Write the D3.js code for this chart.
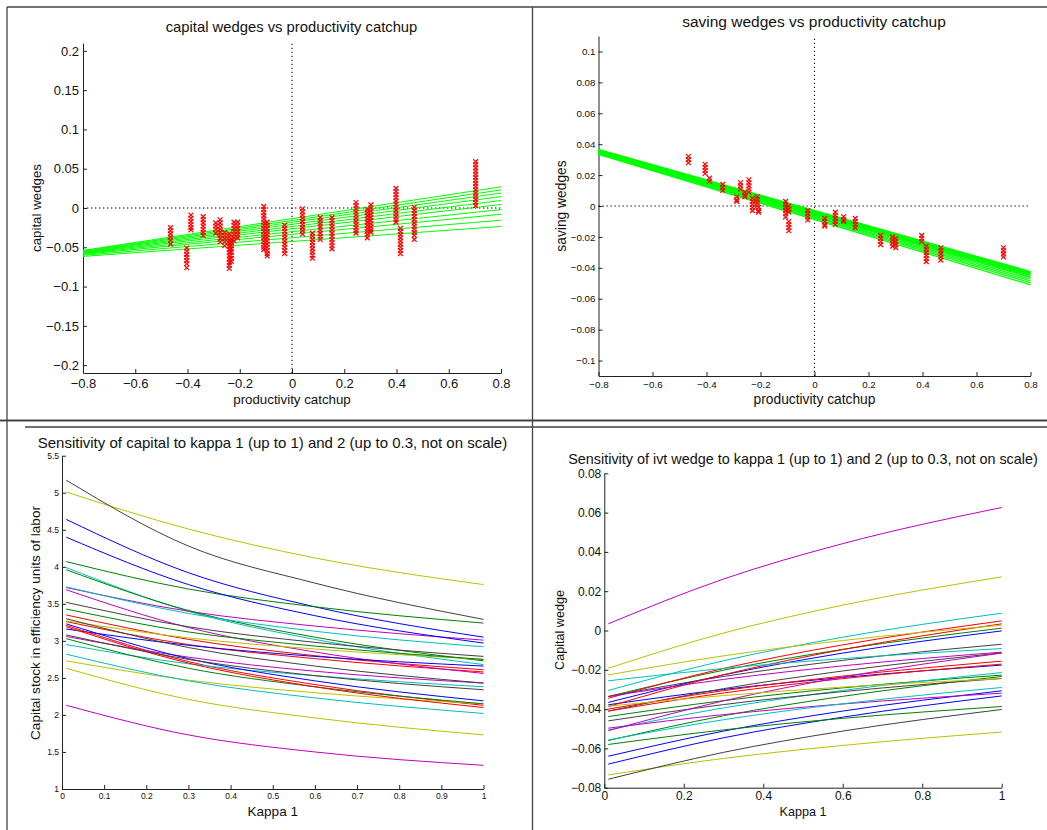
<!DOCTYPE html>
<html>
<head>
<meta charset="utf-8">
<script src="https://cdn.jsdelivr.net/npm/d3@7"></script>
<style>
  body { margin: 0; background: #fff; }
  svg { font-family: "Liberation Sans", Arial, Helvetica, sans-serif; }
  .axis path, .axis line { stroke: #222; }
  .axis text { fill: #111; }
</style>
</head>
<body>
<svg id="fig" width="1047" height="830"></svg>
<script>
// ---- data ----
var catchupTicks = [-0.8, -0.6, -0.4, -0.2, 0, 0.2, 0.4, 0.6, 0.8];
var capWedgeTicks = [-0.2, -0.15, -0.1, -0.05, 0, 0.05, 0.1, 0.15, 0.2];
var savWedgeTicks = [-0.1, -0.08, -0.06, -0.04, -0.02, 0, 0.02, 0.04, 0.06, 0.08, 0.1];
var kappaTicksA = [0, 0.1, 0.2, 0.3, 0.4, 0.5, 0.6, 0.7, 0.8, 0.9, 1];
var capStockTicks = [1, 1.5, 2, 2.5, 3, 3.5, 4, 4.5, 5, 5.5];
var kappaTicksB = [0, 0.2, 0.4, 0.6, 0.8, 1];
var ivtTicks = [-0.08, -0.06, -0.04, -0.02, 0, 0.02, 0.04, 0.06, 0.08];

// capital wedges: one column of x markers per country
var capCatchup = [-0.465, -0.403, -0.387, -0.340, -0.292, -0.275, -0.258, -0.240, -0.232, -0.222, -0.208,
  -0.108, -0.095, -0.028, 0.040, 0.078, 0.108, 0.153, 0.245, 0.288, 0.302, 0.398, 0.415, 0.468, 0.703];
var capWedge = [
  [-0.025, -0.029, -0.033, -0.037, -0.041, -0.046],
  [-0.051, -0.055, -0.059, -0.063, -0.067, -0.071, -0.076],
  [-0.009, -0.013, -0.017, -0.021, -0.025, -0.028],
  [-0.011, -0.015, -0.019, -0.023, -0.027, -0.031, -0.035],
  [-0.019, -0.023, -0.027, -0.032],
  [-0.015, -0.019, -0.023, -0.027, -0.031, -0.035, -0.039, -0.043],
  [-0.031, -0.035, -0.039, -0.043, -0.048],
  [-0.033, -0.037, -0.041, -0.045, -0.049, -0.053, -0.057, -0.061, -0.065, -0.069, -0.073, -0.077],
  [-0.040, -0.044, -0.048, -0.052, -0.056, -0.060, -0.064, -0.068],
  [-0.018, -0.022, -0.026, -0.030, -0.034, -0.038, -0.042],
  [-0.018, -0.022, -0.026, -0.030, -0.034, -0.038],
  [0.002, -0.002, -0.006, -0.010, -0.014, -0.018, -0.022, -0.026, -0.030, -0.034, -0.038, -0.042, -0.046, -0.050, -0.053],
  [-0.018, -0.022, -0.026, -0.030, -0.034, -0.038, -0.042, -0.046, -0.050, -0.054, -0.058, -0.061],
  [-0.022, -0.026, -0.030, -0.034, -0.038, -0.042, -0.046, -0.050, -0.054, -0.058],
  [-0.001, -0.005, -0.009, -0.013, -0.017, -0.021, -0.025, -0.029, -0.033],
  [-0.032, -0.036, -0.040, -0.044, -0.048, -0.052, -0.056, -0.060, -0.064],
  [-0.012, -0.016, -0.020, -0.024, -0.028, -0.032, -0.036, -0.040],
  [-0.012, -0.016, -0.020, -0.024, -0.028, -0.032, -0.036, -0.040, -0.044, -0.048, -0.052],
  [0.007, 0.003, -0.001, -0.005, -0.009, -0.013, -0.017, -0.021, -0.025, -0.029, -0.032],
  [-0.002, -0.006, -0.010, -0.014, -0.018, -0.022, -0.026, -0.030, -0.034, -0.038],
  [0.004, 0.000, -0.004, -0.008, -0.012, -0.016, -0.020, -0.024, -0.028, -0.031],
  [0.025, 0.021, 0.017, 0.013, 0.009, 0.005, 0.001, -0.003, -0.007, -0.011, -0.015, -0.018],
  [-0.026, -0.030, -0.034, -0.038, -0.042, -0.046, -0.050, -0.054, -0.058],
  [0.001, -0.003, -0.007, -0.011, -0.015, -0.019, -0.023, -0.027, -0.031, -0.035, -0.040],
  [0.059, 0.055, 0.051, 0.047, 0.043, 0.039, 0.035, 0.031, 0.027, 0.023, 0.019, 0.015, 0.011, 0.007, 0.003]
];
// fitted lines, value at catchup = -0.8 and at 0.8
var capFitLeft = [-0.054, -0.0547, -0.0553, -0.056, -0.0567, -0.0574, -0.0582, -0.059, -0.0602, -0.0616];
var capFitRight = [0.027, 0.023, 0.019, 0.0145, 0.0095, 0.0045, -0.002, -0.008, -0.0155, -0.0235];

// saving wedges
var savCatchup = [-0.467, -0.405, -0.389, -0.340, -0.288, -0.274, -0.258, -0.243, -0.230, -0.212, -0.207,
  -0.107, -0.095, -0.095, -0.025, 0.038, 0.077, 0.108, 0.151, 0.245, 0.289, 0.301, 0.397, 0.414, 0.468, 0.700];
var savWedge = [
  [0.032, 0.030, 0.028],
  [0.027, 0.025, 0.023, 0.021],
  [0.018, 0.016],
  [0.014, 0.012, 0.010],
  [0.006, 0.004, 0.003],
  [0.015, 0.013, 0.011],
  [0.009, 0.007, 0.006],
  [0.017, 0.015, 0.013, 0.011, 0.009],
  [0.005, 0.003, 0.001, -0.001, -0.003],
  [0.006, 0.004, 0.002, 0.000],
  [-0.001, -0.003, -0.004],
  [0.003, 0.001, -0.001, -0.003, -0.005, -0.007],
  [0.000, -0.002, -0.004],
  [-0.010, -0.012, -0.014, -0.016],
  [-0.003, -0.005, -0.007, -0.009],
  [-0.008, -0.010, -0.012, -0.013],
  [-0.004, -0.006, -0.008, -0.010, -0.012],
  [-0.007, -0.009, -0.010],
  [-0.008, -0.010, -0.012, -0.014],
  [-0.019, -0.021, -0.023, -0.025],
  [-0.020, -0.022, -0.024, -0.026],
  [-0.021, -0.023, -0.025, -0.027],
  [-0.019, -0.021, -0.023],
  [-0.026, -0.028, -0.030, -0.032, -0.034, -0.036],
  [-0.027, -0.029, -0.031, -0.033, -0.035],
  [-0.027, -0.029, -0.031, -0.033]
];
var savFitLeft = [0.0366, 0.0363, 0.0361, 0.0358, 0.0356, 0.0353, 0.0351, 0.0348, 0.0346, 0.0343, 0.0340, 0.0337, 0.0334];
var savFitRight = [-0.0424, -0.0428, -0.0432, -0.0436, -0.044, -0.0445, -0.045, -0.0456, -0.0463, -0.0474, -0.0485, -0.0497, -0.051];

// kappa sensitivity: 28 countries, values at kappaGrid (colour cycles b g r c m y k)
var kappaGrid = [0.01, 0.3, 0.6, 1];
var capStock = [
  [4.64, 3.92, 3.46, 3.05], [4.07, 3.70, 3.46, 3.24], [3.35, 3.02, 2.80, 2.61], [3.99, 3.40, 3.02, 2.68],
  [3.72, 3.40, 3.20, 3.01], [5.01, 4.51, 4.12, 3.76], [5.17, 4.28, 3.78, 3.29],
  [4.40, 3.76, 3.34, 2.97], [3.96, 3.41, 3.05, 2.73], [3.26, 2.95, 2.76, 2.58], [3.73, 3.37, 3.13, 2.92],
  [3.69, 3.18, 2.85, 2.56], [3.27, 3.04, 2.89, 2.75], [3.52, 3.19, 2.98, 2.79],
  [3.16, 2.94, 2.79, 2.66], [3.43, 3.12, 2.93, 2.75], [3.21, 2.72, 2.41, 2.13], [2.95, 2.69, 2.53, 2.38],
  [3.06, 2.78, 2.59, 2.43], [2.73, 2.47, 2.30, 2.15], [3.30, 2.91, 2.66, 2.43],
  [3.23, 2.76, 2.46, 2.19], [3.03, 2.63, 2.38, 2.15], [3.19, 2.70, 2.38, 2.10], [2.82, 2.46, 2.23, 2.02],
  [2.13, 1.73, 1.50, 1.32], [2.63, 2.21, 1.96, 1.73], [3.08, 2.75, 2.53, 2.34]
];
var ivtWedge = [
  [-0.0366, -0.0226, -0.0115, -0.0002], [-0.0336, -0.0202, -0.0096, 0.0012], [-0.0345, -0.0193, -0.0073, 0.0049],
  [-0.0305, -0.0154, -0.0034, 0.0088], [0.0034, 0.0262, 0.0442, 0.0626], [-0.0192, -0.0013, 0.0129, 0.0273],
  [-0.0336, -0.0234, -0.0152, -0.0070],
  [-0.0378, -0.0300, -0.0239, -0.0176], [-0.0438, -0.0357, -0.0292, -0.0227], [-0.0387, -0.0225, -0.0097, 0.0034],
  [-0.0256, -0.0193, -0.0143, -0.0092], [-0.0336, -0.0249, -0.0180, -0.0110], [-0.0226, -0.0129, -0.0051, 0.0027],
  [-0.0410, -0.0296, -0.0206, -0.0114],
  [-0.0640, -0.0512, -0.0410, -0.0307], [-0.0560, -0.0434, -0.0335, -0.0234], [-0.0400, -0.0306, -0.0232, -0.0156],
  [-0.0506, -0.0394, -0.0305, -0.0214], [-0.0497, -0.0428, -0.0374, -0.0319], [-0.0735, -0.0651, -0.0585, -0.0517],
  [-0.0460, -0.0377, -0.0311, -0.0244],
  [-0.0680, -0.0546, -0.0441, -0.0333], [-0.0580, -0.0506, -0.0447, -0.0387], [-0.0410, -0.0318, -0.0245, -0.0171],
  [-0.0557, -0.0454, -0.0373, -0.0290], [-0.0510, -0.0358, -0.0237, -0.0115], [-0.0385, -0.0331, -0.0288, -0.0245],
  [-0.0757, -0.0620, -0.0512, -0.0402]
];

var colorOrder = ["#0000ff", "#008000", "#ff0000", "#00bfbf", "#bf00bf", "#bfbf00", "#404040"];

var svg = d3.select("#fig");
var fmt = d3.format("~g");

// page frame (document table lines)
var frame = svg.append("g").attr("stroke", "#444").attr("stroke-width", 1.3);
frame.append("line").attr("x1", 7).attr("x2", 1047).attr("y1", 7).attr("y2", 7);
frame.append("line").attr("x1", 7).attr("x2", 7).attr("y1", 7).attr("y2", 830);
frame.append("line").attr("x1", 532.5).attr("x2", 532.5).attr("y1", 7).attr("y2", 830);
frame.append("line").attr("x1", 0).attr("x2", 1047).attr("y1", 420.5).attr("y2", 420.5).attr("stroke-width", 2);
frame.append("line").attr("x1", 25).attr("x2", 1047).attr("y1", 427).attr("y2", 427);

function panel(o) {
    var g = svg.append("g");
    var x = d3.scaleLinear().domain(o.xdom).range([o.left, o.right]);
    var y = d3.scaleLinear().domain(o.ydom).range([o.bottom, o.top]);

    g.append("g").attr("class", "axis")
        .attr("transform", "translate(0," + o.bottom + ")")
        .call(d3.axisBottom(x).tickValues(o.xticks).tickFormat(fmt).tickSizeInner(-4).tickSizeOuter(0).tickPadding(o.xpad))
        .call(s => s.selectAll("text").style("font-size", o.tickFont + "px"));
    g.append("g").attr("class", "axis")
        .attr("transform", "translate(" + o.left + ",0)")
        .call(d3.axisLeft(y).tickValues(o.yticks).tickFormat(fmt).tickSizeInner(-4).tickSizeOuter(0).tickPadding(o.ypad))
        .call(s => s.selectAll("text").style("font-size", o.tickFont + "px"));
    g.selectAll(".axis").attr("font-family", null);

    g.append("text").attr("x", o.titleX).attr("y", o.titleY)
        .attr("text-anchor", "middle").style("font-size", o.titleFont + "px").attr("fill", "#111")
        .text(o.title);
    g.append("text").attr("x", (o.left + o.right) / 2).attr("y", o.xlabY)
        .attr("text-anchor", "middle").style("font-size", o.labFont + "px").attr("fill", "#111")
        .text(o.xlab);
    g.append("text")
        .attr("transform", "translate(" + o.ylabX + "," + o.ylabCY + ") rotate(-90)")
        .attr("text-anchor", "middle").style("font-size", o.labFont + "px").attr("fill", "#111")
        .text(o.ylab);
    return {g: g, x: x, y: y};
}

function zeroGuides(p) {
    var dots = p.g.append("g").attr("stroke", "#000").attr("stroke-width", 1.1).attr("stroke-dasharray", "1.3,2.7");
    dots.append("line").attr("x1", p.x(p.x.domain()[0])).attr("x2", p.x(p.x.domain()[1]))
        .attr("y1", p.y(0)).attr("y2", p.y(0));
    dots.append("line").attr("x1", p.x(0)).attr("x2", p.x(0))
        .attr("y1", p.y(p.y.domain()[0])).attr("y2", p.y(p.y.domain()[1]));
}

function fitLines(p, left, right, w) {
    var line = d3.line().x(d => p.x(d[0])).y(d => p.y(d[1]));
    var xd = p.x.domain();
    p.g.append("g").selectAll("path")
        .data(left.map((l, i) => [[xd[0], l], [xd[1], right[i]]]))
        .join("path")
        .attr("d", line)
        .attr("fill", "none").attr("stroke", "#00ff00").attr("stroke-width", w);
}

function crosses(p, xs, ys, r) {
    var pts = [];
    xs.forEach((xv, i) => ys[i].forEach(yv => pts.push([xv, yv])));
    p.g.append("g").selectAll("path")
        .data(pts)
        .join("path")
        .attr("transform", d => "translate(" + p.x(d[0]) + "," + p.y(d[1]) + ")")
        .attr("d", "M" + (-r) + "," + (-r) + "L" + r + "," + r + "M" + (-r) + "," + r + "L" + r + "," + (-r))
        .attr("stroke", "#ff0000").attr("stroke-width", 1.2).attr("fill", "none");
}

function curves(p, rows) {
    var line = d3.line().x((d, i) => p.x(kappaGrid[i])).y(d => p.y(d)).curve(d3.curveMonotoneX);
    p.g.append("g").selectAll("path")
        .data(rows)
        .join("path")
        .attr("d", line)
        .attr("fill", "none")
        .attr("stroke", (d, i) => colorOrder[i % colorOrder.length])
        .attr("stroke-width", 1);
}

// top left
var p1 = panel({
    xdom: [-0.8, 0.8], ydom: [-0.21, 0.21], left: 83, right: 501, top: 43, bottom: 373,
    xticks: catchupTicks, yticks: capWedgeTicks, tickFont: 13, xpad: 6, ypad: 4,
    title: "capital wedges vs productivity catchup", titleX: 291.5, titleY: 32, titleFont: 14.8,
    xlab: "productivity catchup", xlabY: 404, ylab: "capital wedges", ylabX: 41, ylabCY: 208, labFont: 13.3
});
zeroGuides(p1);
fitLines(p1, capFitLeft, capFitRight, 1);
crosses(p1, capCatchup, capWedge, 2.4);

// top right
var p2 = panel({
    xdom: [-0.8, 0.8], ydom: [-0.11, 0.11], left: 598.5, right: 1030.5, top: 36, bottom: 376,
    xticks: catchupTicks, yticks: savWedgeTicks, tickFont: 9.8, xpad: 5, ypad: 3,
    title: "saving wedges vs productivity catchup", titleX: 814, titleY: 27, titleFont: 15.5,
    xlab: "productivity catchup", xlabY: 404, ylab: "saving wedges", ylabX: 566, ylabCY: 206, labFont: 13.8
});
zeroGuides(p2);
fitLines(p2, savFitLeft, savFitRight, 1.2);
crosses(p2, savCatchup, savWedge, 2.4);

// bottom left
var p3 = panel({
    xdom: [0, 1], ydom: [1, 5.5], left: 62, right: 483.5, top: 455.7, bottom: 789,
    xticks: kappaTicksA, yticks: capStockTicks, tickFont: 8.5, xpad: 4, ypad: 3,
    title: "Sensitivity of capital to kappa 1 (up to 1) and 2 (up to 0.3, not on scale)", titleX: 272.5, titleY: 448, titleFont: 15,
    xlab: "Kappa 1", xlabY: 816, ylab: "Capital stock in efficiency units of labor", ylabX: 40, ylabCY: 623, labFont: 13.6
});
curves(p3, capStock);

// bottom right
var p4 = panel({
    xdom: [0, 1], ydom: [-0.08, 0.08], left: 604.3, right: 1001.7, top: 473.3, bottom: 787.7,
    xticks: kappaTicksB, yticks: ivtTicks, tickFont: 12, xpad: 4, ypad: 3,
    title: "Sensitivity of ivt wedge to kappa 1 (up to 1) and 2 (up to 0.3, not on scale)", titleX: 803, titleY: 464, titleFont: 14.4,
    xlab: "Kappa 1", xlabY: 816, ylab: "Capital wedge", ylabX: 564, ylabCY: 630, labFont: 12.6
});
curves(p4, ivtWedge);
</script>
</body>
</html>
